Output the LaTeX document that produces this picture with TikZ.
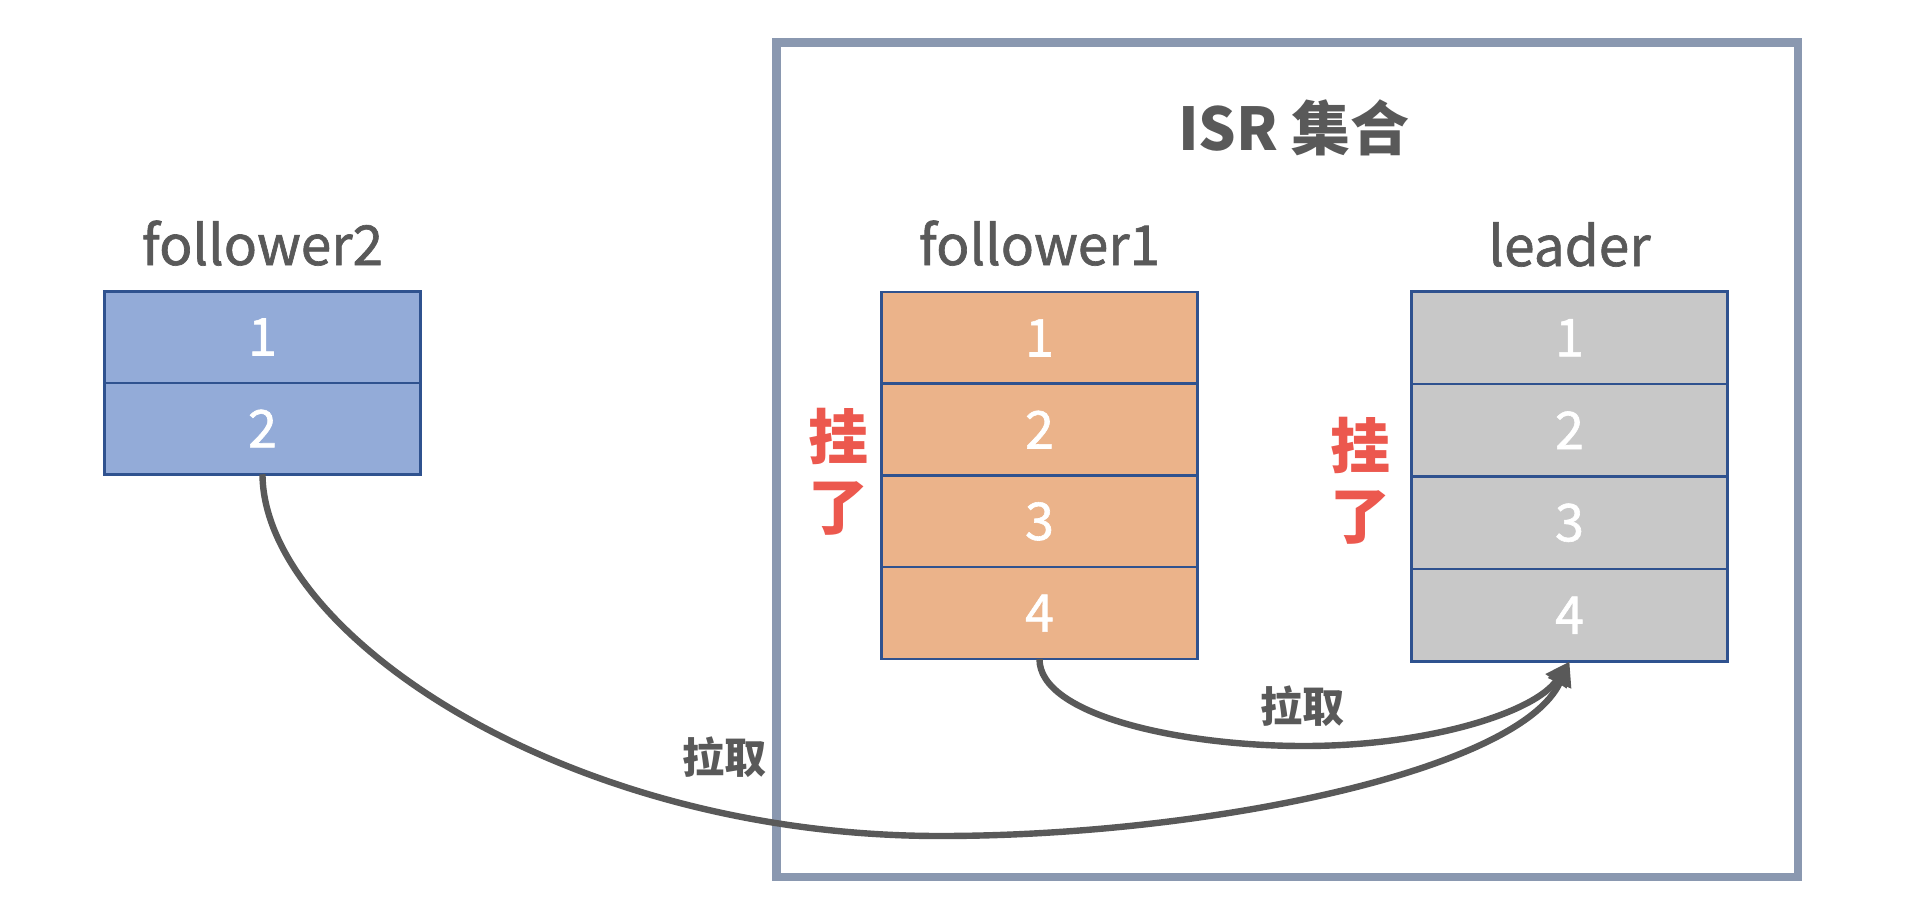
\documentclass[tikz,border=0pt]{standalone}
\usepackage{fontspec}
\setmainfont{Noto Sans CJK SC}
\newfontfamily\medfont{Noto Sans CJK SC}[FakeBold=1.2]
\usetikzlibrary{arrows.meta}
\definecolor{isrc}{RGB}{138,152,176}
\definecolor{cellb}{RGB}{47,82,143}
\definecolor{fbluec}{RGB}{147,171,216}
\definecolor{forangec}{RGB}{235,179,138}
\definecolor{lgrayc}{RGB}{200,200,200}
\definecolor{txtc}{RGB}{89,89,89}
\definecolor{redc}{RGB}{236,88,78}
\definecolor{arrc}{RGB}{89,89,89}
\begin{document}
\begin{tikzpicture}[x=0.5pt,y=-0.5pt,
  cell/.style={draw=cellb, line width=1.25pt, minimum width=158pt, inner sep=0pt, outer sep=0pt, text=white, font=\medfont\fontsize{26}{30}\selectfont},
  lbl/.style={text=txtc, font=\medfont\fontsize{27.5}{30}\selectfont, anchor=base, inner sep=0pt},
  pull/.style={draw=arrc, line width=3.2pt, -{Triangle[length=12pt,width=12pt]}},
  pulllbl/.style={text=txtc, font=\bfseries\fontsize{21}{24}\selectfont, inner sep=0pt},
  dead/.style={text=redc, font=\bfseries\fontsize{30}{35}\selectfont, align=center, inner sep=0pt},
  isrbox/.style={draw=isrc, line width=4.25pt, minimum width=510.75pt, minimum height=417.25pt, inner sep=0pt, outer sep=0pt}
]
\useasboundingbox (0,0) rectangle (1912,916);
\fill[white] (0,0) rectangle (1912,916);

% ISR container
\node[isrbox] (isr) at (1287.25,459.75) {};
\node[text=txtc, font=\bfseries\fontsize{29.5}{32}\selectfont, anchor=base, inner sep=0pt] (isrlbl) at (1294,150) {ISR 集合};

% follower2
\node[lbl] (f2lbl) at (262.5,265) {follower2};
\node[cell, fill=fbluec, minimum height=45.75pt] (f2a) at (262.5,337) {1};
\node[cell, fill=fbluec, minimum height=45.75pt] (f2b) at (262.5,428.5) {2};

% follower1
\node[lbl] (f1lbl) at (1039.5,265) {follower1};
\node[cell, fill=forangec, minimum height=45.875pt] (f11) at (1039.5,337.9) {1};
\node[cell, fill=forangec, minimum height=45.875pt] (f12) at (1039.5,429.6) {2};
\node[cell, fill=forangec, minimum height=45.875pt] (f13) at (1039.5,521.4) {3};
\node[cell, fill=forangec, minimum height=45.875pt] (f14) at (1039.5,613.1) {4};

% leader
\node[lbl] (ldlbl) at (1569.5,266) {leader};
\node[cell, fill=lgrayc, minimum height=46.25pt] (ld1) at (1569.5,337.75) {1};
\node[cell, fill=lgrayc, minimum height=46.25pt] (ld2) at (1569.5,430.25) {2};
\node[cell, fill=lgrayc, minimum height=46.25pt] (ld3) at (1569.5,522.75) {3};
\node[cell, fill=lgrayc, minimum height=46.25pt] (ld4) at (1569.5,615.25) {4};

% dead markers
\node[dead] (dead1) at (838,472) {挂\\了};
\node[dead] (dead2) at (1360,481) {挂\\了};

% pull connectors
\draw[pull] (f2b.south) .. controls (263,630) and (560,836) .. (940,836)
  .. controls (1210,836) and (1520,770) .. (ld4.south);
\draw[pull] (f14.south) .. controls (1039,715) and (1180,746) .. (1304,746)
  .. controls (1430,746) and (1535,712) .. (ld4.south);

\node[pulllbl] (pl1) at (724,757) {拉取};
\node[pulllbl] (pl2) at (1302,706) {拉取};
\end{tikzpicture}
\end{document}
